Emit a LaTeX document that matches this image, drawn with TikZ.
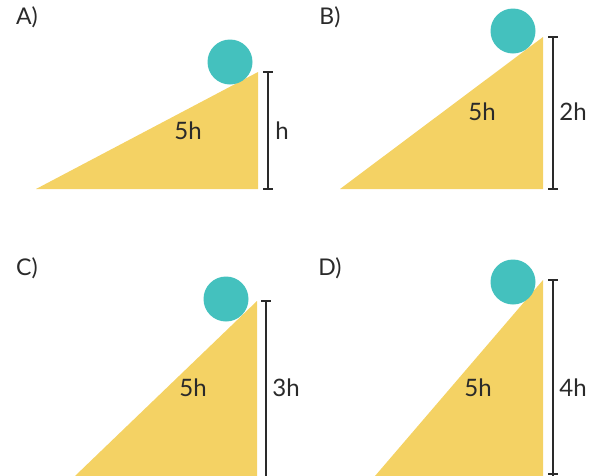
\documentclass[tikz,border=0pt]{standalone}
\usepackage{fontspec}
\setmainfont{Lato}
\definecolor{ramp}{HTML}{F4D264}
\definecolor{ball}{HTML}{44C1BE}
\definecolor{ink}{HTML}{2A2A2A}
\begin{document}
\begin{tikzpicture}[x=1pt,y=-1pt,
  rampfill/.style={fill=ramp,draw=none},
  ballfill/.style={fill=ball,draw=none},
  dimbar/.style={draw=ink,line width=1.5pt},
  lab/.style={text=ink,font=\fontsize{24}{28}\selectfont,inner sep=0pt},
  tag/.style={text=ink,font=\fontsize{23}{27}\selectfont,inner sep=0pt}]
\useasboundingbox (0,0) rectangle (598,475);
% A
\fill[rampfill] (36,189) -- (258,189) -- (258,72) -- cycle;
\fill[ballfill] (230,62) circle (22.5);
\coordinate (a1) at (268,72); \coordinate (a2) at (268,189);
\draw[dimbar] (a1) -- (a2);
\draw[dimbar] (263,72) -- (273,72); \draw[dimbar] (263,189) -- (273,189);
\node[lab] (ah) at (282,131) {h};
\node[lab] (a5) at (188,131) {5h};
\node[tag] (aT) at (27,17) {A)};
% B
\fill[rampfill] (340,189) -- (543,189) -- (543,37) -- cycle;
\fill[ballfill] (513,31) circle (22.5);
\coordinate (b1) at (553,37); \coordinate (b2) at (553,189);
\draw[dimbar] (b1) -- (b2);
\draw[dimbar] (548,37) -- (558,37); \draw[dimbar] (548,189) -- (558,189);
\node[lab] (bh) at (573,112) {2h};
\node[lab] (b5) at (482,112) {5h};
\node[tag] (bT) at (330,17) {B)};
% C
\fill[rampfill] (75,476) -- (257,476) -- (257,301) -- cycle;
\fill[ballfill] (226,299) circle (22.5);
\coordinate (c1) at (266,301); \coordinate (c2) at (266,476);
\draw[dimbar] (c1) -- (c2);
\draw[dimbar] (261,301) -- (271,301);
\node[lab] (ch) at (286,388) {3h};
\node[lab] (c5) at (193,388) {5h};
\node[tag] (cT) at (27,268) {C)};
% D
\fill[rampfill] (375,476) -- (543,476) -- (543,280) -- cycle;
\fill[ballfill] (513,282) circle (22.5);
\coordinate (d1) at (553,280); \coordinate (d2) at (553,476);
\draw[dimbar] (d1) -- (d2);
\draw[dimbar] (548,280) -- (558,280); \draw[dimbar] (548,474) -- (558,474);
\node[lab] (dh) at (573,388) {4h};
\node[lab] (d5) at (478,388) {5h};
\node[tag] (dT) at (330,268) {D)};
\end{tikzpicture}
\end{document}
